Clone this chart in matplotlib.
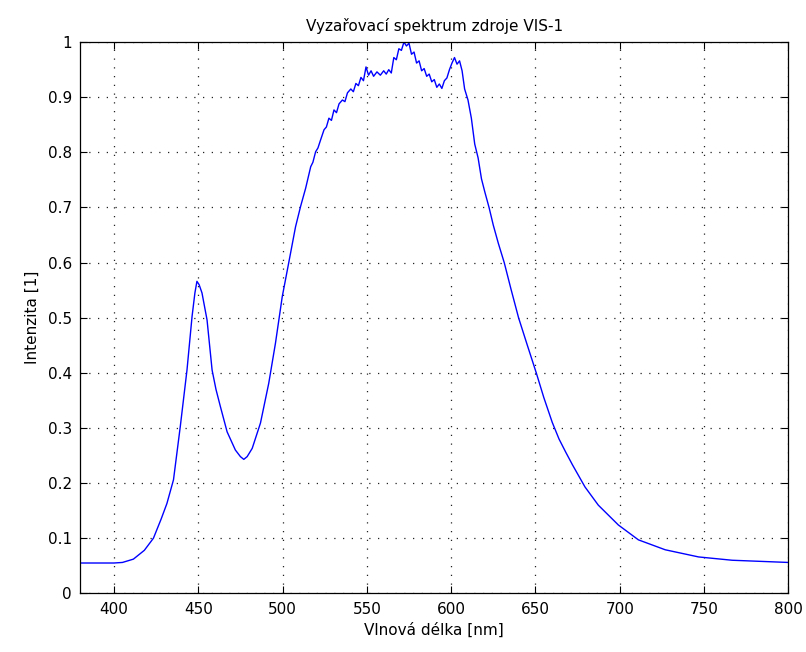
import matplotlib
matplotlib.use("Agg")
import matplotlib.pyplot as plt

# vlnova delka [nm] a intenzita
wavelength = [380, 400, 405, 411.5, 418, 423.4, 428, 431.4, 435.3, 439.3,
              443.3, 446.3, 448, 449.2, 450.5, 452.2, 455.2, 458.2, 460.5, 463.1,
              467.1, 472, 475, 477, 479, 482, 486.9, 491.8, 495.8, 499.8,
              503.8, 507.7, 510.7, 513.7, 516.7, 518, 519.6, 521, 522.5, 524.6,
              526, 527.5, 529, 530.5, 532, 533.5, 535.5, 537, 538.5, 540.5,
              542, 543.5, 545, 546.5, 548, 549.5, 551, 552.5, 554, 556,
              558, 560, 561.5, 563, 564.5, 566, 567.5, 569, 570.5, 572,
              573.5, 575, 576.5, 578, 579.5, 581, 582.5, 584, 585.5, 587,
              588.5, 590, 591.5, 593, 594.5, 596, 597.5, 599, 600.5, 602,
              603.5, 605, 606.5, 608, 610, 612, 614, 616, 618, 620,
              622.5, 625, 628, 631.5, 635.5, 640, 645, 650.5, 655, 660,
              664, 668, 672, 679.4, 687.3, 699.2, 711.1, 727, 746.8, 766.7,
              800]
intensity = [0.055, 0.055, 0.056, 0.062, 0.078, 0.100, 0.135, 0.163, 0.206, 0.302,
             0.405, 0.502, 0.545, 0.566, 0.560, 0.545, 0.496, 0.405, 0.370, 0.339,
             0.293, 0.260, 0.248, 0.243, 0.248, 0.263, 0.309, 0.381, 0.454, 0.538,
             0.602, 0.665, 0.702, 0.735, 0.774, 0.782, 0.801, 0.808, 0.822, 0.841,
             0.846, 0.862, 0.858, 0.877, 0.872, 0.888, 0.895, 0.892, 0.908, 0.915,
             0.910, 0.925, 0.921, 0.936, 0.930, 0.955, 0.940, 0.948, 0.938, 0.946,
             0.940, 0.948, 0.942, 0.950, 0.944, 0.972, 0.968, 0.988, 0.985, 1.000,
             0.993, 0.998, 0.978, 0.982, 0.962, 0.966, 0.948, 0.952, 0.938, 0.942,
             0.928, 0.932, 0.918, 0.924, 0.916, 0.930, 0.935, 0.950, 0.962, 0.972,
             0.960, 0.966, 0.948, 0.915, 0.895, 0.862, 0.815, 0.790, 0.752, 0.728,
             0.700, 0.668, 0.635, 0.600, 0.552, 0.500, 0.452, 0.400, 0.355, 0.310,
             0.280, 0.256, 0.233, 0.193, 0.160, 0.124, 0.097, 0.079, 0.066, 0.060,
             0.056]

x_ticks = [400, 450, 500, 550, 600, 650, 700, 750, 800]
y_ticks = [0, 0.1, 0.2, 0.3, 0.4, 0.5, 0.6, 0.7, 0.8, 0.9, 1]
y_tick_labels = ["0", "0.1", "0.2", "0.3", "0.4", "0.5", "0.6", "0.7", "0.8", "0.9", "1"]

plt.rcParams['font.family'] = ['DejaVu Sans']

fig = plt.figure(figsize=(8.06, 6.52), dpi=100)
ax = fig.add_axes([0.0996, 0.090, 0.8784, 0.8454])

ax.plot(wavelength, intensity, color="#0000ff", linewidth=1.0)

ax.set_xlim(380, 800)
ax.set_ylim(0, 1)
ax.set_xticks(x_ticks)
ax.set_xticklabels([str(t) for t in x_ticks])
ax.set_yticks(y_ticks)
ax.set_yticklabels(y_tick_labels)

ax.grid(True, color="#222222", linestyle=(0, (1, 6)), linewidth=0.9)
ax.tick_params(direction="in", length=5, width=0.8, top=True, right=True,
               labelsize=11, colors="black", pad=6)
for s in ax.spines.values():
    s.set_linewidth(0.9)

ax.set_title("Vyzařovací spektrum zdroje VIS-1", fontsize=11, pad=8)
ax.set_xlabel("Vlnová délka [nm]", fontsize=11, labelpad=4)
ax.set_ylabel("Intenzita [1]", fontsize=11, labelpad=6)

fig.savefig("out.png", dpi=100)
